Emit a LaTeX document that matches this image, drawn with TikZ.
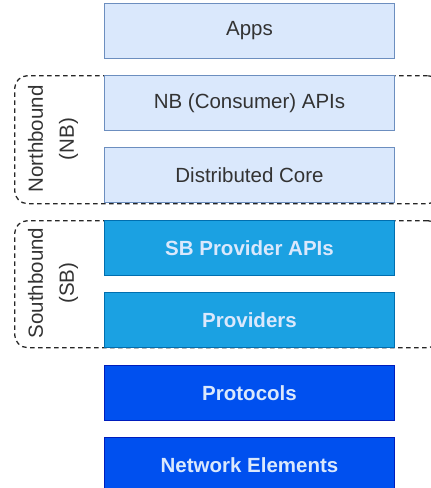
\documentclass[tikz,border=0pt]{standalone}
\usepackage{fontspec}
\setmainfont{Liberation Sans}
\definecolor{lightfill}{HTML}{DAE8FC}
\definecolor{lightdraw}{HTML}{6C8EBF}
\definecolor{darktext}{HTML}{333333}
\definecolor{midfill}{HTML}{1BA1E2}
\definecolor{middraw}{HTML}{006EAF}
\definecolor{deepfill}{HTML}{0050EF}
\definecolor{deepdraw}{HTML}{001DBC}
\definecolor{paletext}{HTML}{DAE8FC}
\begin{document}
\begin{tikzpicture}[x=1pt,y=-1pt,
  lay/.style={draw, line width=1pt, minimum width=290pt, minimum height=55pt, inner sep=0pt, anchor=north west},
  light/.style={lay, fill=lightfill, draw=lightdraw, text=darktext, font=\fontsize{20.5}{24}\selectfont},
  mid/.style={lay, fill=midfill, draw=middraw, text=paletext, font=\bfseries\fontsize{20.5}{24}\selectfont},
  deep/.style={lay, fill=deepfill, draw=deepdraw, text=paletext, font=\bfseries\fontsize{20.5}{24}\selectfont},
  grp/.style={draw=black!85, dash pattern=on 4.5pt off 3.5pt, line width=1.3pt, rounded corners=13pt, anchor=north west, inner sep=0pt},
  grplabel/.style={rotate=90, align=center, text=darktext, font=\fontsize{20.5}{31}\selectfont}
]
\useasboundingbox (0,0) rectangle (431,488);
\fill[white] (0,0) rectangle (431,488);

% groups
\node[grp, minimum width=426pt, minimum height=128pt] (nbg) at (14,75) {};
\node[grp, minimum width=426pt, minimum height=127pt] (sbg) at (14,220) {};

% layers
\node[light] (apps) at (104,3) {Apps};
\node[light] (nb) at (104,75) {NB (Consumer) APIs};
\node[light] (core) at (104,147) {Distributed Core};
\node[mid] (sb) at (104,220) {SB Provider APIs};
\node[mid] (prov) at (104,292) {Providers};
\node[deep] (proto) at (104,365) {Protocols};
\node[deep] (ne) at (104,437) {Network Elements};

% group labels
\node[grplabel] (nbl) at (53,139) {Northbound\\(NB)};
\node[grplabel] (sbl) at (53,283) {Southbound\\(SB)};
\end{tikzpicture}
\end{document}
